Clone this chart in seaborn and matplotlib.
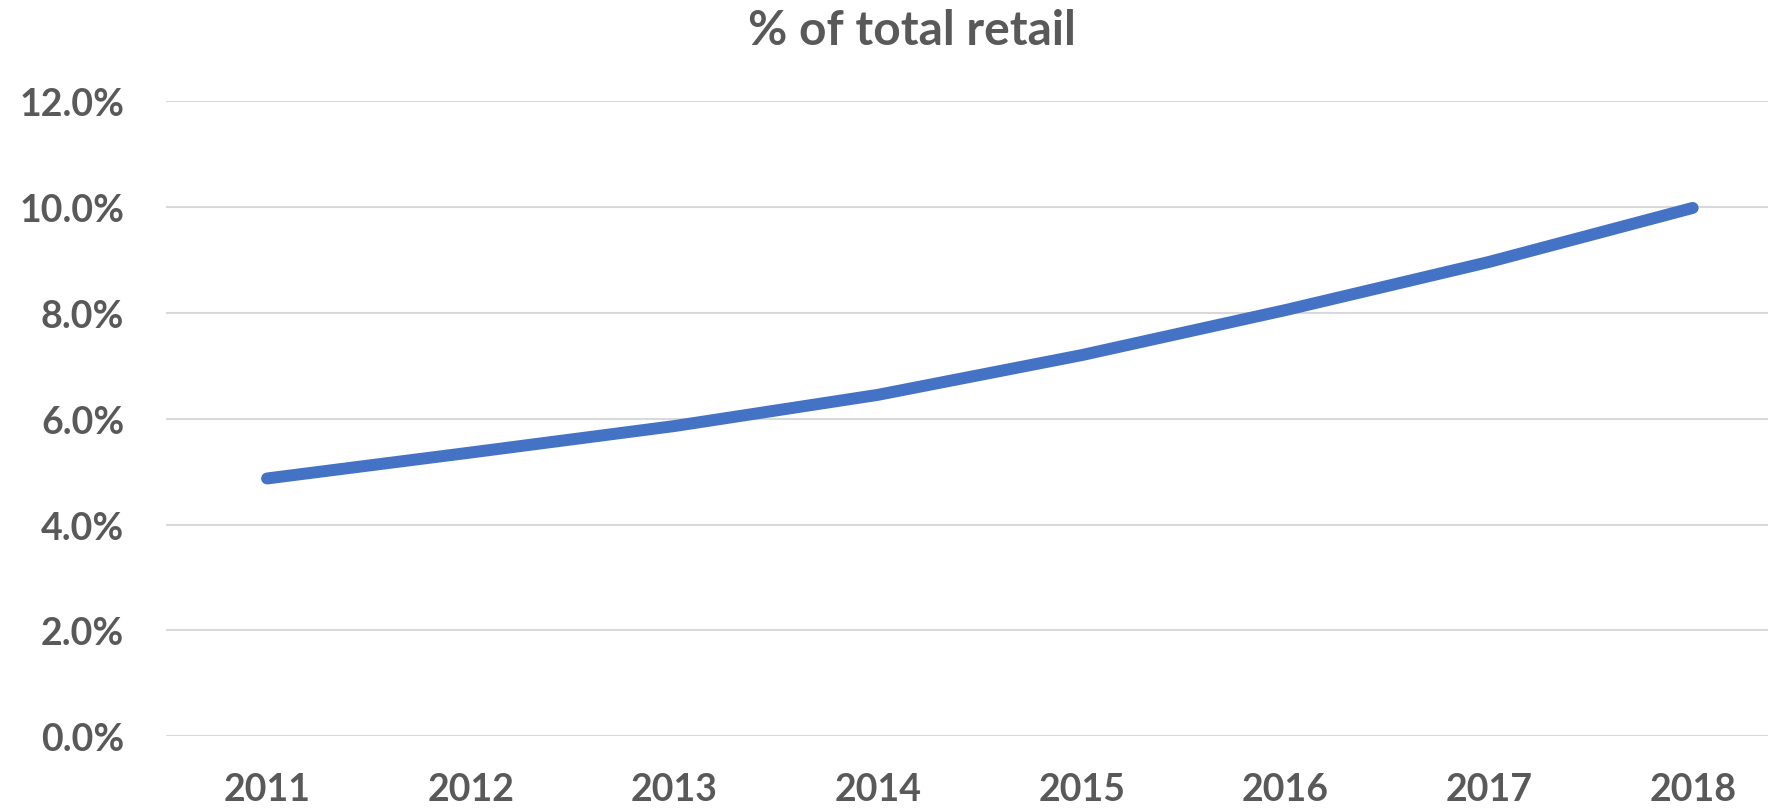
import matplotlib
matplotlib.use("Agg")
import matplotlib.pyplot as plt
import seaborn as sns
import pandas as pd
from matplotlib.ticker import FuncFormatter

# Share of total retail, by year (percent)
years = ["2011", "2012", "2013", "2014", "2015", "2016", "2017", "2018"]
share_pct = [4.87, 5.36, 5.86, 6.45, 7.2, 8.05, 8.96, 9.98]
y_ticks = [0, 2, 4, 6, 8, 10, 12]
title = "% of total retail"

df = pd.DataFrame({"year": years, "share": share_pct})

sns.set_theme(style="white")
plt.rcParams["font.family"] = ["Lato", "DejaVu Sans"]

text_color = "#595959"
fig = plt.figure(figsize=(17.89, 8.12), dpi=100)
ax = fig.add_axes([0.0928, 0.0920, 0.8955, 0.7824])

sns.lineplot(data=df, x="year", y="share", ax=ax, color="#4472C4",
             linewidth=8.6, solid_capstyle="round", sort=False)

ax.set_ylim(0, 12)
ax.set_xlim(-0.496, 7.37)
ax.set_yticks(y_ticks)
ax.yaxis.set_major_formatter(FuncFormatter(lambda v, _: f"{v:.1f}%"))
ax.grid(axis="y", color="#D9D9D9", linewidth=1.5)
ax.grid(axis="x", visible=False)
ax.set_axisbelow(True)
for s in ax.spines.values():
    s.set_visible(False)

ax.tick_params(axis="y", length=0, pad=30, labelsize=27, labelcolor=text_color)
ax.tick_params(axis="x", length=0, pad=26, labelsize=27, labelcolor=text_color)
for lbl in ax.get_xticklabels() + ax.get_yticklabels():
    lbl.set_fontweight("bold")

ax.set_xlabel("")
ax.set_ylabel("")
if ax.get_legend() is not None:
    ax.get_legend().remove()

fig.text(912 / 1789, 1 - 31 / 812, title, ha="center", va="center",
         fontsize=34.5, fontweight="bold", color=text_color)

fig.savefig("out.png", dpi=100, facecolor="white")
